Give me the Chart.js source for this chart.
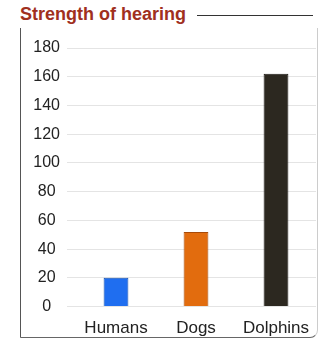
<!DOCTYPE html>
<html>
<head>
<meta charset="utf-8">
<script src="https://cdn.jsdelivr.net/npm/chart.js@4"></script>
<style>
  body { margin: 0; background: #fff; }
  #wrap { position: relative; width: 325px; height: 346px; overflow: hidden; }
  #title {
    position: absolute; left: 20px; top: 4px;
    font: bold 18px "Liberation Sans", Arial, sans-serif;
    color: #a0301e; white-space: nowrap;
  }
  #rule { position: absolute; left: 197px; top: 15px; width: 116px; height: 0; border-top: 1.5px solid #333; }
  #frame {
    position: absolute; left: 20px; top: 28px; width: 296px; height: 309px;
    border-left: 1.5px solid #555; border-bottom: 1.5px solid #666; border-right: 1px solid #ccc;
    border-bottom-right-radius: 8px;
  }
  canvas { position: absolute; left: 0; top: 0; }
</style>
</head>
<body>
<div id="wrap">
  <div id="title">Strength of hearing</div>
  <div id="rule"></div>
  <div id="frame"></div>
  <canvas id="hearingChart" width="325" height="346"></canvas>
</div>
<script>
// chart data
const animals = ['Humans', 'Dogs', 'Dolphins'];
const hearing = [20, 52, 162];
const barColors = ['#1f6ef0', '#e26c0e', '#2c2820'];
const edgeColors = ['#1450b0', '#a84a08', '#1a1712'];
const yTicks = [0, 20, 40, 60, 80, 100, 120, 140, 160, 180];

const ctx = document.getElementById('hearingChart');

new Chart(ctx, {
  type: 'bar',
  data: {
    labels: animals,
    datasets: [{
      data: hearing,
      backgroundColor: barColors,
      borderColor: edgeColors,
      borderWidth: 1,
      barPercentage: 0.62,
      categoryPercentage: 0.5
    }]
  },
  options: {
    responsive: false,
    animation: false,
    layout: { padding: { top: 48, left: 26, right: 9, bottom: 3 } },
    plugins: { legend: { display: false }, tooltip: { enabled: false } },
    scales: {
      x: {
        grid: { display: false },
        border: { display: false },
        ticks: { color: '#222', padding: 4, font: { family: 'Liberation Sans', size: 17 } }
      },
      y: {
        min: 0, max: 180,
        afterBuildTicks: axis => { axis.ticks = yTicks.map(v => ({ value: v })); },
        afterFit: axis => { axis.width = 50; },
        grid: { color: '#e4e4e4', drawTicks: true, tickLength: 9 },
        border: { display: false },
        ticks: { color: '#222', padding: 7, crossAlign: 'center', font: { family: 'Liberation Sans', size: 16 } }
      }
    }
  }
});
</script>
</body>
</html>
